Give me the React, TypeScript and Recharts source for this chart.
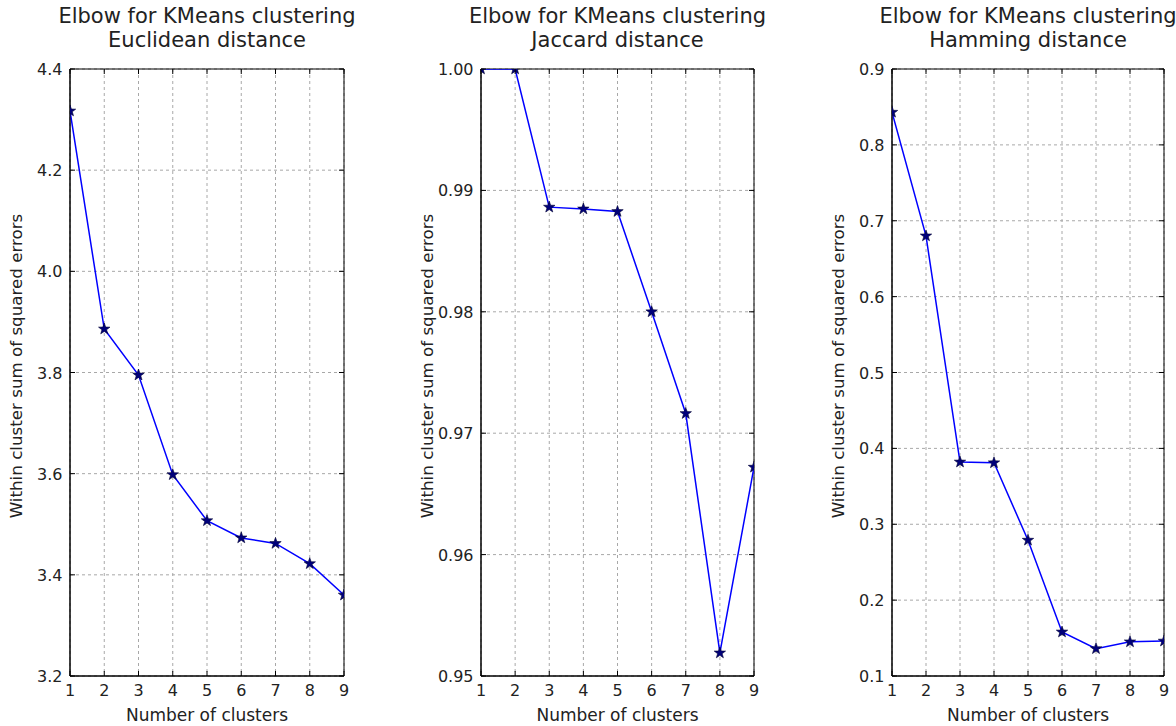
import React from 'react';
import { LineChart, Line, XAxis, YAxis, CartesianGrid, ReferenceArea } from 'recharts';

// ---------- data ----------
const clusters = [1, 2, 3, 4, 5, 6, 7, 8, 9];
const euclideanSSE = [4.317, 3.886, 3.795, 3.598, 3.507, 3.473, 3.462, 3.422, 3.36];
const jaccardSSE = [1.0, 1.0, 0.98862, 0.98847, 0.98826, 0.98, 0.97162, 0.9519, 0.9672];
const hammingSSE = [0.843, 0.68, 0.382, 0.381, 0.279, 0.158, 0.136, 0.145, 0.146];

const euclideanTicks = [3.2, 3.4, 3.6, 3.8, 4.0, 4.2, 4.4];
const euclideanTickLabels = ['3.2', '3.4', '3.6', '3.8', '4.0', '4.2', '4.4'];
const jaccardTicks = [0.95, 0.96, 0.97, 0.98, 0.99, 1.0];
const jaccardTickLabels = ['0.95', '0.96', '0.97', '0.98', '0.99', '1.00'];
const hammingTicks = [0.1, 0.2, 0.3, 0.4, 0.5, 0.6, 0.7, 0.8, 0.9];
const hammingTickLabels = ['0.1', '0.2', '0.3', '0.4', '0.5', '0.6', '0.7', '0.8', '0.9'];
const xTickLabels = ['1', '2', '3', '4', '5', '6', '7', '8', '9'];

const titleLine1 = 'Elbow for KMeans clustering';
const distanceNames = ['Euclidean distance', 'Jaccard distance', 'Hamming distance'];
const xLabel = 'Number of clusters';
const yLabel = 'Within cluster sum of squared errors';

// ---------- layout ----------
const W = 1176;
const H = 726;
const FONT = '"DejaVu Sans", "Liberation Sans", sans-serif';
const TEXT = '#222';
const PLOT_TOP = 69;
const PLOT_BOTTOM = 676;
const X_AXIS_H = 30;
const Y_AXIS_W = 70;
const TICK_LEN = 5;
const TICK_FONT = 16;

const panels = [
  { left: 0, width: 360, right: 16, values: euclideanSSE, ticks: euclideanTicks, labels: euclideanTickLabels },
  { left: 411, width: 360, right: 17, values: jaccardSSE, ticks: jaccardTicks, labels: jaccardTickLabels },
  { left: 822, width: 354, right: 12, values: hammingSSE, ticks: hammingTicks, labels: hammingTickLabels },
];

const Star = (props: any) => {
  const { cx, cy, index } = props;
  if (cx == null || cy == null) return <g key={`s-${index}`} />;
  const pts: string[] = [];
  for (let i = 0; i < 10; i++) {
    const r = i % 2 === 0 ? 6 : 2.4;
    const a = (-90 + i * 36) * (Math.PI / 180);
    pts.push(`${cx + r * Math.cos(a)},${cy + r * Math.sin(a)}`);
  }
  return <polygon key={`s-${index}`} points={pts.join(' ')} fill="#00007a" stroke="#000033" strokeWidth={0.6} />;
};

const makeXTick = () => (props: any) => {
  const { x, y, payload } = props;
  const idx = clusters.indexOf(payload.value);
  return (
    <g>
      <line x1={x} y1={y} x2={x} y2={y - TICK_LEN} stroke="#000" strokeWidth={1} />
      <line x1={x} y1={PLOT_TOP} x2={x} y2={PLOT_TOP + TICK_LEN} stroke="#000" strokeWidth={1} />
      <text x={x} y={y + 20} textAnchor="middle" fontFamily={FONT} fontSize={TICK_FONT} fill={TEXT}>
        {idx >= 0 ? xTickLabels[idx] : payload.value}
      </text>
    </g>
  );
};

const makeYTick = (ticks: number[], labels: string[], plotRight: number) => (props: any) => {
  const { x, y, payload } = props;
  let idx = -1;
  ticks.forEach((t, i) => {
    if (Math.abs(t - payload.value) < 1e-9) idx = i;
  });
  return (
    <g>
      <line x1={x} y1={y} x2={x + TICK_LEN} y2={y} stroke="#000" strokeWidth={1} />
      <line x1={plotRight - TICK_LEN} y1={y} x2={plotRight} y2={y} stroke="#000" strokeWidth={1} />
      <text x={x - 7.5} y={y + 6} textAnchor="end" fontFamily={FONT} fontSize={TICK_FONT} fill={TEXT}>
        {idx >= 0 ? labels[idx] : payload.value}
      </text>
    </g>
  );
};

const Panel = ({ p }: { p: (typeof panels)[number] }) => {
  const data = clusters.map((k, i) => ({ k, v: p.values[i] }));
  const yMin = p.ticks[0];
  const yMax = p.ticks[p.ticks.length - 1];
  const plotRight = p.width - p.right;
  return (
    <div style={{ position: 'absolute', left: p.left, top: 0 }}>
      <LineChart
        width={p.width}
        height={H}
        data={data}
        margin={{ top: PLOT_TOP, right: p.right, bottom: H - PLOT_BOTTOM - X_AXIS_H, left: 0 }}
      >
        <CartesianGrid stroke="#a8a8a8" strokeDasharray="3 3" strokeWidth={1} />
        <XAxis
          dataKey="k"
          type="number"
          domain={[1, 9]}
          ticks={clusters}
          interval={0}
          allowDataOverflow
          height={X_AXIS_H}
          tickSize={0}
          tickMargin={0}
          tickLine={false}
          axisLine={{ stroke: '#000', strokeWidth: 1 }}
          tick={makeXTick()}
        />
        <YAxis
          type="number"
          domain={[yMin, yMax]}
          ticks={p.ticks}
          interval={0}
          allowDataOverflow
          width={Y_AXIS_W}
          tickSize={0}
          tickMargin={0}
          tickLine={false}
          axisLine={{ stroke: '#000', strokeWidth: 1 }}
          tick={makeYTick(p.ticks, p.labels, plotRight)}
        />
        <ReferenceArea x1={1} x2={9} y1={yMin} y2={yMax} fill="none" fillOpacity={0} stroke="#000" strokeWidth={1} />
        <Line
          type="linear"
          dataKey="v"
          stroke="#0000ff"
          strokeWidth={1.5}
          dot={Star}
          activeDot={false}
          isAnimationActive={false}
        />
      </LineChart>
    </div>
  );
};

export default function App() {
  return (
    <div style={{ position: 'absolute', left: 0, top: 0, width: W, height: H, background: '#fff', overflow: 'hidden' }}>
      {panels.map((p, i) => (
        <Panel key={i} p={p} />
      ))}
      <svg width={W} height={H} style={{ position: 'absolute', left: 0, top: 0, pointerEvents: 'none' }}>
        {panels.map((p, i) => {
          const plotLeft = p.left + Y_AXIS_W;
          const plotRight = p.left + p.width - p.right;
          const cx = (plotLeft + plotRight) / 2;
          const cy = 366;
          const lx = plotLeft - 48;
          return (
            <g key={i} fontFamily={FONT} fill={TEXT}>
              <text x={cx} y={23} textAnchor="middle" fontSize={21}>{titleLine1}</text>
              <text x={cx} y={47} textAnchor="middle" fontSize={21}>{distanceNames[i]}</text>
              <text x={cx} y={721} textAnchor="middle" fontSize={17}>{xLabel}</text>
              <text x={lx} y={cy} textAnchor="middle" fontSize={16.7} transform={`rotate(-90 ${lx} ${cy})`}>{yLabel}</text>
            </g>
          );
        })}
      </svg>
    </div>
  );
}
